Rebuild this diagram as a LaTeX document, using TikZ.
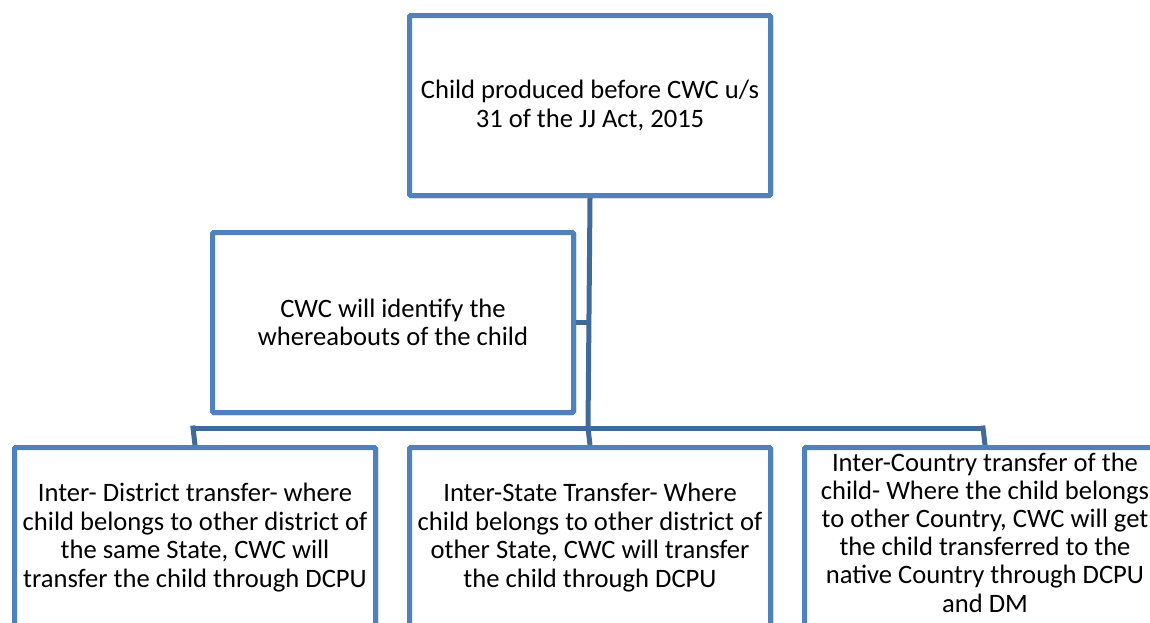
\documentclass[tikz,border=0pt]{standalone}
\usepackage{fontspec}
\setmainfont{Carlito}
\definecolor{boxblue}{HTML}{4F81BD}
\definecolor{lineblue}{HTML}{3F6A9C}
\begin{document}
\begin{tikzpicture}[x=1pt,y=-1pt,
  box/.style={draw=boxblue,line width=5pt,fill=white,rounded corners=1.5pt,minimum width=361pt,minimum height=180pt,align=center,font=\fontsize{26.6}{28.6}\selectfont,inner sep=0pt,anchor=north west},
  txt/.style={align=center,font=\fontsize{26.6}{28.2}\selectfont,inner sep=0pt},
  link/.style={draw=lineblue,line width=5pt}]
\useasboundingbox (0,0) rectangle (1150,622);
\coordinate (trunkbot) at (588,428);
\coordinate (busL) at (193,428);
\coordinate (busR) at (983,428);
\node[box] (top) at (407,13) {};
\node[box] (mid) at (210,230) {};
\node[box] (b1) at (12,445) {};
\node[box] (b2) at (407,445) {};
\node[box] (b3) at (802,445) {};
\draw[link] (top.south) -- (trunkbot);
\draw[link] (mid.east) -- (mid.east -| trunkbot);
\draw[link] (busL) -- (busR);
\draw[link,line cap=rect] (busL) -- (b1.north);
\draw[link] (trunkbot) -- (b2.north);
\draw[link,line cap=rect] (busR) -- (b3.north);
\node[box] at (407,13) {Child produced before CWC u/s\\31 of the JJ Act, 2015};
\node[box] at (210,230) {CWC will identify the\\whereabouts of the child};
\node[box] at (12,445) {Inter- District transfer- where\\child belongs to other district of\\the same State, CWC will\\transfer the child through DCPU};
\node[box] at (407,445) {Inter-State Transfer- Where\\child belongs to other district of\\other State, CWC will transfer\\the child through DCPU};
\node[box] (b3f) at (802,445) {};
\node[txt] (b3t) at ([yshift=5pt]b3f.center) {Inter-Country transfer of the\\child- Where the child belongs\\to other Country, CWC will get\\the child transferred to the\\native Country through DCPU\\and DM};
\end{tikzpicture}
\end{document}
